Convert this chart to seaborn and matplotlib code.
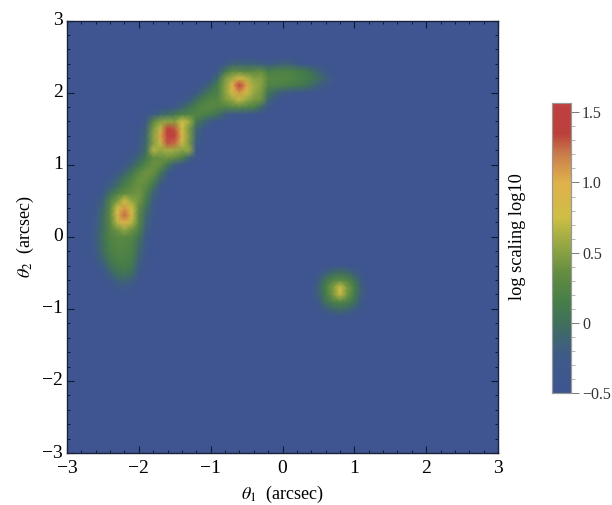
import numpy as np
import pandas as pd
import matplotlib
matplotlib.use("Agg")
import matplotlib.pyplot as plt
from matplotlib.colors import LinearSegmentedColormap
from matplotlib.ticker import MultipleLocator
import seaborn as sns

# each row: its theta_2, the theta_1 of its first value, then the values.
background = -50
row_y = [2.4, 2.3, 2.2, 2.1, 2.0, 1.9, 1.8, 1.7, 1.6, 1.5, 1.4, 1.3, 1.2, 1.1, 1.0, 0.9, 0.8, 0.7,
         0.6, 0.5, 0.4, 0.3, 0.2, 0.1, 0.0, -0.1, -0.2, -0.3, -0.4, -0.5, -0.6, -0.7, -0.8]
row_x0 = [-0.9, -0.9, -1.0, -1.2, -1.3, -1.4, -1.6, -1.9, -1.9, -2.0, -2.0, -2.0, -2.1, -2.2, -2.3, -2.4, -2.5, -2.6,
          -2.6, -2.6, -2.7, -2.7, -2.7, -2.7, -2.7, -2.7, -2.7, -2.6, -2.6, -2.5, -2.5, -2.4, -2.3]
row_values = [
    [-48, -30, -15, -12, -15, -15, -20, -25, -20, -15, -15, -25, -38, -48],
    [-30, 5, 30, 30, 25, 30, 35, 15, 18, 20, 20, 15, 10, 0, -15, -30, -45],
    [-35, -5, 45, 60, 85, 65, 50, 50, 28, 25, 25, 22, 20, 15, 8, -3, -15, -32, -46],
    [-45, -28, -8, 15, 50, 100, 145, 105, 60, 50, 22, 20, 18, 15, 10, 5, -5, -18, -32, -46],
    [-42, -25, -5, 12, 20, 50, 78, 110, 78, 55, 45, 5, -8, -22, -32, -42, -48],
    [-40, -22, -2, 15, 25, 25, 45, 55, 70, 55, 45, 40, -8, -35, -48],
    [-42, -30, -15, 2, 18, 28, 30, 25, 22, 28, 28, 25, 18, -5, -35, -48],
    [-45, -25, -10, -5, 8, 20, 22, 25, 20, 12, 2, -18, -30, -35, -38, -45],
    [-25, 30, 50, 55, 50, 75, 60, 10, -8, -25, -42],
    [-42, -15, 45, 70, 135, 130, 75, 45, -8, -35, -48],
    [-35, -10, 50, 105, 150, 148, 95, 48, -15, -42],
    [-32, -8, 48, 70, 130, 125, 72, 45, -22, -46],
    [-45, -28, -2, 65, 55, 62, 58, 50, 55, -28, -48],
    [-45, -30, -12, 10, 35, 38, 40, 35, 20, -12, -40],
    [-46, -32, -15, 5, 25, 38, 35, 8, -20, -42],
    [-46, -32, -15, 5, 28, 40, 38, 12, -22, -46],
    [-45, -32, -15, 5, 22, 38, 38, 22, -8, -38],
    [-48, -38, -20, -2, 18, 32, 38, 30, 5, -28, -48],
    [-45, -28, 0, 22, 35, 38, 42, 22, -12, -40],
    [-38, -15, 22, 45, 75, 55, 42, 12, -22, -46],
    [-46, -30, -10, 28, 75, 110, 75, 35, 2, -30],
    [-45, -28, -5, 32, 85, 125, 85, 30, -8, -36],
    [-45, -26, -3, 30, 68, 100, 68, 30, -12, -40],
    [-44, -24, 0, 25, 40, 55, 40, 20, -18, -44],
    [-43, -22, 2, 22, 28, 30, 25, 5, -25, -47],
    [-44, -22, 0, 20, 25, 26, 20, -3, -30],
    [-46, -26, -3, 18, 22, 23, 18, -8, -36],
    [-32, -10, 10, 20, 20, 14, -15, -42],
    [-42, -22, 0, 12, 15, 8, -22, -46],
    [-38, -15, 2, 6, -3, -30],
    [-48, -32, -15, -10, -18, -40],
    [-46, -35, -30, -35, -47],
    [-48, -46, -48],
]
# the small source on its own, same layout
source_y = [-0.4, -0.5, -0.6, -0.7, -0.8, -0.9, -1.0, -1.1]
source_x0 = [0.6, 0.5, 0.5, 0.5, 0.5, 0.5, 0.5, 0.6]
source_values = [
    [-48, -42, -40, -42, -48],
    [-38, -18, -5, 0, -5, -18, -38],
    [-22, 5, 22, 30, 22, 5, -25],
    [-15, 15, 45, 78, 45, 15, -18],
    [-15, 12, 42, 72, 42, 12, -18],
    [-25, 2, 18, 25, 18, 2, -28],
    [-40, -20, -8, -3, -8, -20, -40],
    [-48, -44, -42, -44, -48],
]

# colours of the bar, bottom to top
bar_positions = [0.0, 0.121, 0.193, 0.242, 0.314, 0.411, 0.507, 0.604, 0.725, 0.821, 0.894, 1.0]
bar_colors = ["#3e5591", "#3e5a88", "#3f6670", "#40705a", "#467e48", "#638c40", "#93a743",
              "#cdbe45", "#dfb14c", "#c97f4a", "#bb403c", "#bf403f"]
ticks = [-3, -2, -1, 0, 1, 2, 3]
tick_labels = ["\u22123", "\u22122", "\u22121", "0", "1", "2", "3"]
bar_ticks = [-0.5, 0, 0.5, 1.0, 1.5]
bar_labels = ["\u22120.5", "0", "0.5", "1.0", "1.5"]

plt.rcParams["font.family"] = ["Liberation Serif", "DejaVu Serif"]
plt.rcParams["mathtext.fontset"] = "stix"

# full field on a 61 x 61 table, row 0 at the bottom
grid = np.round(np.arange(-3, 3.01, 0.1), 1)
field = pd.DataFrame(background / 100, index=grid, columns=grid)
for ys, x0s, vals in [(row_y, row_x0, row_values), (source_y, source_x0, source_values)]:
    for y, x0, row in zip(ys, x0s, vals):
        i = int(round((y + 3) * 10))
        j = int(round((x0 + 3) * 10))
        field.iloc[i, j:j + len(row)] = np.array(row) / 100

cmap = LinearSegmentedColormap.from_list("dark_rainbow", list(zip(bar_positions, bar_colors)))

fig = plt.figure(figsize=(6.12, 5.05), dpi=100)
ax = fig.add_axes([67 / 612, 1 - 453 / 505, 431 / 612, 432.5 / 505])
cax = fig.add_axes([552 / 612, 1 - 393 / 505, 19 / 612, 290.5 / 505])

sns.heatmap(field, ax=ax, cbar_ax=cax, cmap=cmap, vmin=-0.5, vmax=1.57,
            shading="gouraud", rasterized=True)

# heatmap works in cell numbers, so put the arcsec ticks on those
to_cell = lambda v: (np.asarray(v) + 3) * 10
ax.set_xlim(0, 60)
ax.set_ylim(0, 60)
ax.set_xticks(to_cell(ticks), tick_labels, rotation=0)
ax.set_yticks(to_cell(ticks), tick_labels, rotation=0)
minor = np.round(np.arange(-3, 3.01, 0.2), 1)
ax.set_xticks(to_cell(minor), minor=True)
ax.set_yticks(to_cell(minor), minor=True)
ax.tick_params(which="major", direction="in", length=5, width=0.8, top=True, right=True,
               left=True, bottom=True, labelsize=14, color="#111a33", pad=3)
ax.tick_params(axis="x", which="major", pad=5)
ax.tick_params(which="minor", direction="in", length=2.5, width=0.7, top=True, right=True,
               left=True, bottom=True, color="#111a33")
for s in ax.spines.values():
    s.set_visible(True)
    s.set_color("#1a2238")
    s.set_linewidth(1.0)
ax.set_xlabel(r"$\theta_1$  (arcsec)", fontsize=13, labelpad=5)
ax.set_ylabel(r"$\theta_2$  (arcsec)", fontsize=13, labelpad=4)

cax.set_yticks(bar_ticks, bar_labels)
cax.yaxis.set_minor_locator(MultipleLocator(0.1))
cax.tick_params(which="major", length=6, width=0.7, color="#777777", labelcolor="#333333",
                labelsize=11.5, pad=2, right=True, left=False)
cax.tick_params(which="minor", length=3, width=0.5, color="#999999", right=True, left=False)
for s in cax.spines.values():
    s.set_visible(True)
    s.set_color("#999999")
    s.set_linewidth(0.8)
fig.text(517 / 612, 1 - 237 / 505, "log scaling log10", rotation=90, ha="center", va="center", fontsize=13.2)

fig.savefig("out.png", dpi=100)
